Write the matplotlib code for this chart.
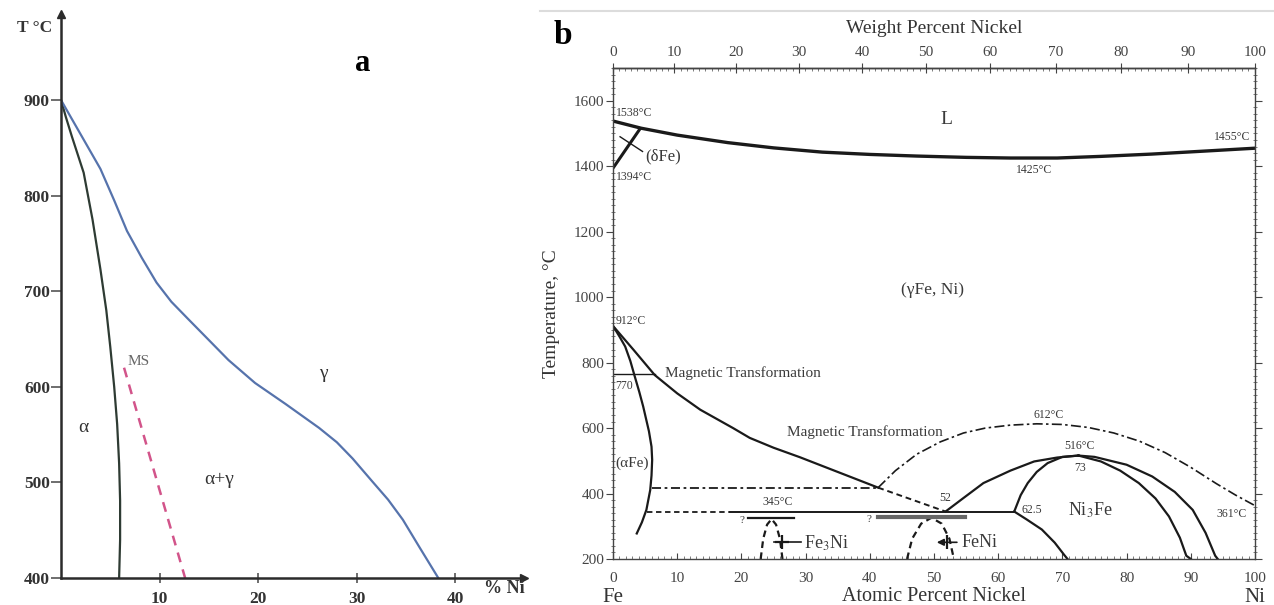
import numpy as np
import matplotlib.pyplot as plt
from matplotlib.ticker import MultipleLocator

plt.rcParams['font.family'] = ['Liberation Serif', 'DejaVu Serif']
plt.rcParams['mathtext.fontset'] = 'stix'

# ---- panel a: Fe-Ni low temperature part ----
alpha_x = [0, 0.5, 1.1, 1.7, 2.3, 3.2, 4.0, 4.6, 5.0, 5.4, 5.7, 5.9, 6.0, 6.0, 5.9]
alpha_T = [900, 882, 862, 843, 824, 775, 723, 680, 642, 600, 561, 520, 481, 440, 400]
gamma_x = [0, 1.0, 2.0, 3.0, 4.0, 5.4, 6.7, 8.2, 9.7, 11.2, 12.9, 15.0, 17.0, 19.7, 22.8,
           26.2, 28.0, 29.6, 31.6, 33.2, 34.7, 36.4, 38.3]
gamma_T = [900, 882, 864, 846, 828, 795, 763, 735, 709, 689, 671, 649, 628, 604, 582,
           557, 542, 525, 501, 482, 461, 432, 400]
ms_x = [6.4, 12.6]
ms_T = [620, 400]
a_yticks = [400, 500, 600, 700, 800, 900]
a_xticks = [10, 20, 30, 40]

# ---- panel b: full Fe-Ni diagram (atomic % Ni, deg C) ----
liq_x = [0, 4.4, 10, 17.9, 25, 32.6, 40, 47.3, 55, 61.9, 69.2, 76, 83.9, 92, 100]
liq_T = [1538, 1516, 1495, 1472, 1456, 1443, 1436, 1431, 1427, 1425, 1425, 1430, 1437, 1446, 1455]
delta_x = [0, 4.2]
delta_T = [1394, 1514]
gb_x = [0, 3.2, 6.5, 10, 13.6, 18.7, 21.3, 25, 29.1, 35, 41.3]
gb_T = [912, 839, 762, 706, 656, 600, 570, 540, 511, 466, 418]
gb_dash_x = [41.3, 51.8]
gb_dash_T = [418, 345]
ab_x = [0, 1.0, 1.9, 2.7, 3.4, 4.1, 4.7, 5.6, 6.0, 6.1, 6.0, 5.8, 5.2, 4.5, 3.7]
ab_T = [912, 880, 849, 805, 757, 710, 666, 590, 543, 503, 455, 411, 350, 312, 278]
mag_x = [0, 6.5]
mag_T = [765, 765]
h415_x = [6.1, 41.3]
h415_T = [418, 418]
h345d_x = [5.3, 18.2]
h345s_x = [18.2, 62.5]
h345_T = [345, 345]
curie_x = [41.3, 44, 47.3, 51, 54.6, 58, 61.9, 66, 70, 74, 78, 82, 86, 90, 94, 97, 100]
curie_T = [418, 470, 520, 558, 585, 600, 609, 613, 611, 602, 585, 560, 525, 480, 430, 395, 363]
dome_l_x = [51.8, 54.5, 57.7, 61.9, 65.6, 69.2, 72.5]
dome_l_T = [345, 385, 432, 470, 498, 510, 516]
dome_li_x = [62.5, 63.5, 64.6, 66.0, 67.7, 70.0, 72.5]
dome_li_T = [345, 395, 432, 466, 493, 512, 516]
dome_ri_x = [72.5, 76, 79, 81.9, 84.5, 86.6, 88.3, 89.3, 90.0]
dome_ri_T = [516, 498, 470, 432, 385, 330, 265, 210, 200]
dome_ro_x = [72.5, 75, 80, 84.0, 87.5, 90.3, 92.3, 93.8, 94.2]
dome_ro_T = [516, 512, 488, 452, 405, 350, 280, 210, 200]
ord_x = [62.5, 64.5, 66.8, 68.8, 70.3, 70.8]
ord_T = [345, 320, 290, 250, 212, 200]
fe3ni_x = [23.0, 23.4, 24.0, 24.7, 25.4, 26.0, 26.4]
fe3ni_T = [200, 262, 305, 322, 305, 262, 200]
feni_x = [45.8, 46.6, 48.0, 49.6, 51.2, 52.4, 53.1]
feni_T = [200, 262, 308, 326, 308, 262, 200]
b_yticks = [200, 400, 600, 800, 1000, 1200, 1400, 1600]
b_xticks = [0, 10, 20, 30, 40, 50, 60, 70, 80, 90, 100]
wt_ticks = [0, 10, 20, 30, 40, 50, 60, 70, 80, 90, 100]

M_FE, M_NI = 55.845, 58.693


def at2wt(a):
    a = np.asarray(a, dtype=float)
    with np.errstate(divide='ignore', invalid='ignore'):
        return a * M_NI / (a * M_NI + (100 - a) * M_FE) * 100


def wt2at(w):
    w = np.asarray(w, dtype=float)
    with np.errstate(divide='ignore', invalid='ignore'):
        return (w / M_NI) / (w / M_NI + (100 - w) / M_FE) * 100


fig = plt.figure(figsize=(12.74, 6.05), dpi=100)

# ================= panel a =================
axc = '#2b2b2b'
ax = fig.add_axes([61 / 1274, 27 / 605, 463 / 1274, 564 / 605])
ax.set_xlim(0, 47)
ax.set_ylim(400, 990)
for s in ['top', 'right']:
    ax.spines[s].set_visible(False)
for s in ['left', 'bottom']:
    ax.spines[s].set_linewidth(1.8)
    ax.spines[s].set_color(axc)
ax.plot(1, 400, '>', color=axc, ms=6, transform=ax.get_yaxis_transform(), clip_on=False)
ax.plot(0, 1, '^', color=axc, ms=6, transform=ax.get_xaxis_transform(), clip_on=False)

ax.set_yticks(a_yticks)
ax.set_xticks(a_xticks)
ax.tick_params(axis='y', direction='out', length=7, width=1.2, color='#555', pad=1,
               labelsize=12.5, labelcolor='#333')
ax.tick_params(axis='x', direction='inout', length=7, width=1.2, color='#555', pad=6,
               labelsize=12.5, labelcolor='#333')
for t in ax.get_xticklabels() + ax.get_yticklabels():
    t.set_fontweight('bold')

ax.plot(alpha_x, alpha_T, color='#2e3b33', lw=1.6)
ax.plot(gamma_x, gamma_T, color='#5673ac', lw=1.6)
ax.plot(ms_x, ms_T, color='#d2548a', lw=1.8, ls=(0, (4, 3)))

ax.text(-2.7, 975, 'T °C', fontsize=12.5, fontweight='bold', color='#333', ha='center', va='center')
ax.text(45.0, 389, '% Ni', fontsize=13, fontweight='bold', color='#333', ha='center', va='center')
ax.text(30.6, 938, 'a', fontsize=22, fontweight='bold', ha='center', va='center')
ax.text(6.8, 626, 'MS', fontsize=11, color='#666', ha='left', va='center')
ax.text(2.3, 557, 'α', fontsize=14, color='#333', ha='center', va='center')
ax.text(16.1, 503, 'α+γ', fontsize=14, color='#333', ha='center', va='center')
ax.text(26.6, 614, 'γ', fontsize=14, color='#333', ha='center', va='center')

# ================= panel b =================
ink = '#1a1a1a'
txt = '#3a3a3a'
bx = fig.add_axes([613 / 1274, 46 / 605, 642 / 1274, 491 / 605])
bx.set_xlim(0, 100)
bx.set_ylim(200, 1700)
for s in bx.spines.values():
    s.set_linewidth(1.0)
    s.set_color('#444')
bx.set_xticks(b_xticks)
bx.set_yticks(b_yticks)
bx.xaxis.set_minor_locator(MultipleLocator(1))
bx.yaxis.set_minor_locator(MultipleLocator(20))
bx.tick_params(axis='y', which='major', direction='out', length=5, pad=1, labelsize=11,
               labelcolor='#444', color='#444')
bx.tick_params(axis='y', which='minor', direction='inout', length=3, color='#666')
bx.tick_params(axis='x', which='major', direction='in', length=4, pad=9, labelsize=11,
               labelcolor='#444', color='#444')
bx.tick_params(axis='x', which='minor', direction='in', length=2, color='#666')
bx.tick_params(right=True, which='both', labelright=False)

sec = bx.secondary_xaxis('top', functions=(at2wt, wt2at))
sec.set_xticks(wt_ticks)
sec.xaxis.set_minor_locator(MultipleLocator(1))
sec.tick_params(which='major', direction='inout', length=7, pad=3, labelsize=11,
                labelcolor='#444', color='#444')
sec.tick_params(which='minor', direction='in', length=2, color='#666')
sec.spines['top'].set_linewidth(1.0)
sec.set_xlabel('Weight Percent Nickel', fontsize=14, color='#333', labelpad=9)

bx.set_ylabel('Temperature, °C', fontsize=14, color='#333', labelpad=10)
bx.text(0.5, -0.077, 'Atomic Percent Nickel', transform=bx.transAxes, fontsize=14.5,
        color='#333', ha='center', va='center')
bx.text(0, -0.078, 'Fe', transform=bx.transAxes, fontsize=15, color='#333', ha='center', va='center')
bx.text(1, -0.078, 'Ni', transform=bx.transAxes, fontsize=15, color='#333', ha='center', va='center')

# phase boundaries
bx.plot(liq_x, liq_T, color=ink, lw=2.4)
bx.plot(delta_x, delta_T, color=ink, lw=2.2)
bx.plot([1.1, 4.6], [1490, 1445], color=ink, lw=1.0)
bx.plot(gb_x, gb_T, color=ink, lw=1.6)
bx.plot(gb_dash_x, gb_dash_T, color=ink, lw=1.4, ls=(0, (3, 2)))
bx.plot(ab_x, ab_T, color=ink, lw=1.6)
bx.plot(mag_x, mag_T, color=ink, lw=1.0)
bx.plot(h415_x, h415_T, color=ink, lw=1.3, ls=(0, (5, 2, 1.5, 2)))
bx.plot(h345d_x, h345_T, color=ink, lw=1.3, ls=(0, (3, 2)))
bx.plot(h345s_x, h345_T, color=ink, lw=1.4)
bx.plot(curie_x, curie_T, color=ink, lw=1.2, ls=(0, (6, 2, 1.5, 2)))
bx.plot(dome_l_x, dome_l_T, color=ink, lw=1.6)
bx.plot(dome_li_x, dome_li_T, color=ink, lw=1.6)
bx.plot(dome_ri_x, dome_ri_T, color=ink, lw=1.6)
bx.plot(dome_ro_x, dome_ro_T, color=ink, lw=1.6)
bx.plot(ord_x, ord_T, color=ink, lw=1.6)
bx.plot(fe3ni_x, fe3ni_T, color=ink, lw=1.6, ls=(0, (3, 2)))
bx.plot(feni_x, feni_T, color=ink, lw=1.6, ls=(0, (3, 2)))
bx.plot([21.0, 28.2], [325, 325], color=ink, lw=1.6)
bx.plot([41.3, 54.8], [329, 329], color='#666', lw=3.0)

# Fe3Ni and FeNi pointers
bx.plot([25.0, 29.3], [251, 251], color=ink, lw=1.2)
bx.plot([26.3], [251], marker='+', color=ink, ms=10, mew=1.6)
bx.annotate('', xy=(50.0, 251), xytext=(54.0, 251),
            arrowprops=dict(arrowstyle='-|>', color=ink, lw=1.2, mutation_scale=10))
bx.plot([52.0], [251], marker='|', color=ink, ms=10, mew=1.6)

# labels
bx.text(0.4, 1562, '1538°C', fontsize=8.5, color=txt, ha='left', va='center')
bx.text(0.4, 1366, '1394°C', fontsize=8.5, color=txt, ha='left', va='center')
bx.text(5.0, 1431, '(δFe)', fontsize=12, color=txt, ha='left', va='center')
bx.text(52, 1543, 'L', fontsize=14, color=txt, ha='center', va='center')
bx.text(99.3, 1490, '1455°C', fontsize=8.5, color=txt, ha='right', va='center')
bx.text(65.6, 1389, '1425°C', fontsize=8.5, color=txt, ha='center', va='center')
bx.text(49.8, 1022, '(γFe, Ni)', fontsize=12.5, color=txt, ha='center', va='center')
bx.text(0.4, 928, '912°C', fontsize=8.5, color=txt, ha='left', va='center')
bx.text(0.3, 729, '770', fontsize=8.5, color=txt, ha='left', va='center')
bx.text(8.1, 768, 'Magnetic Transformation', fontsize=11, color=txt, ha='left', va='center')
bx.text(27.1, 587, 'Magnetic Transformation', fontsize=11, color=txt, ha='left', va='center')
bx.text(67.8, 640, '612°C', fontsize=8.5, color=txt, ha='center', va='center')
bx.text(72.7, 545, '516°C', fontsize=8.5, color=txt, ha='center', va='center')
bx.text(72.7, 478, '73', fontsize=8.5, color=txt, ha='center', va='center')
bx.text(0.3, 493, '(αFe)', fontsize=11, color=txt, ha='left', va='center')
bx.text(25.6, 375, '345°C', fontsize=8.5, color=txt, ha='center', va='center')
bx.text(51.8, 385, '52', fontsize=8.5, color=txt, ha='center', va='center')
bx.text(63.6, 350, '62.5', fontsize=8.5, color=txt, ha='left', va='center')
bx.text(74.4, 348, 'Ni$_3$Fe', fontsize=13, color=txt, ha='center', va='center')
bx.text(96.3, 336, '361°C', fontsize=8.5, color=txt, ha='center', va='center')
bx.text(20.1, 318, '?', fontsize=8, color=txt, ha='center', va='center')
bx.text(39.8, 322, '?', fontsize=8, color=txt, ha='center', va='center')
bx.text(29.8, 249, 'Fe$_3$Ni', fontsize=13, color=txt, ha='left', va='center')
bx.text(54.3, 249, 'FeNi', fontsize=13, color=txt, ha='left', va='center')

fig.text(563 / 1274, 1 - 35 / 605, 'b', fontsize=24, fontweight='bold', ha='center', va='center')
fig.add_artist(plt.Line2D([540 / 1274, 1], [1 - 11 / 605, 1 - 11 / 605], color='#dcdcdc', lw=1.5))

fig.savefig('out.png', dpi=100, facecolor='white')
